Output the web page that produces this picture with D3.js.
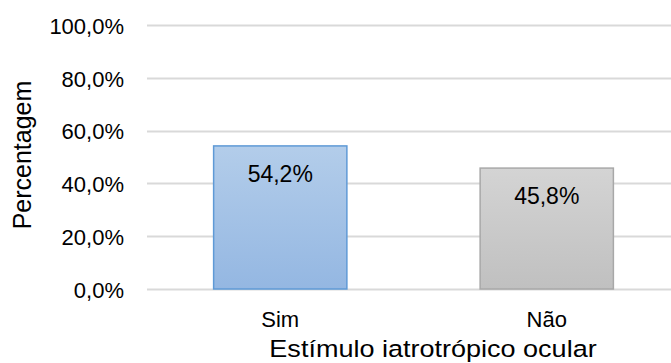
<!DOCTYPE html>
<html>
<head>
<meta charset="utf-8">
<script src="https://cdn.jsdelivr.net/npm/d3@7"></script>
<style>
  body { margin: 0; background: #fff; }
  text { font-family: "Liberation Sans", Arial, sans-serif; fill: #000; }
</style>
</head>
<body>
<div id="chart"></div>
<script>
// chart data
var categories = ['Sim', 'Não'];
var values = [54.2, 45.8];
var tickValues = [0, 20, 40, 60, 80, 100];
var xTitle = 'Estímulo iatrotrópico ocular';
var yTitle = 'Percentagem';

var width = 671, height = 363;
var margin = {top: 25, right: -9, bottom: 74, left: 147};

var svg = d3.select('#chart').append('svg')
  .attr('width', width)
  .attr('height', height);

var defs = svg.append('defs');
function gradient(id, top, bottom) {
  var g = defs.append('linearGradient').attr('id', id)
    .attr('x1', 0).attr('y1', 0).attr('x2', 0).attr('y2', 1);
  g.append('stop').attr('offset', '0%').attr('stop-color', top);
  g.append('stop').attr('offset', '100%').attr('stop-color', bottom);
}
gradient('gBlue', '#b3cdea', '#94b7e2');
gradient('gGray', '#d4d4d4', '#c0c0c0');
var fills = ['url(#gBlue)', 'url(#gGray)'];
var strokes = ['#5f9ad6', '#a8a8a8'];

var x = d3.scaleBand()
  .domain(categories)
  .range([margin.left, width - margin.right])
  .paddingInner(0.5)
  .paddingOuter(0.25);

var y = d3.scaleLinear()
  .domain([0, 100])
  .range([height - margin.bottom, margin.top]);

var fmt = function(d) { return d.toFixed(1).replace('.', ',') + '%'; };

// gridlines
svg.append('g').selectAll('line')
  .data(tickValues).enter().append('line')
  .attr('x1', margin.left)
  .attr('x2', width)
  .attr('y1', function(d) { return Math.round(y(d)) + 0.5; })
  .attr('y2', function(d) { return Math.round(y(d)) + 0.5; })
  .attr('stroke', '#d9d9d9')
  .attr('stroke-width', 2);

// y axis labels
var yAxis = d3.axisLeft(y).tickValues(tickValues).tickFormat(fmt).tickSize(0).tickPadding(0);
var yg = svg.append('g')
  .attr('transform', 'translate(124,0)')
  .call(yAxis);
yg.select('.domain').remove();
yg.selectAll('text')
  .attr('font-size', 22)
  .attr('dy', '0.38em')
  .attr('font-family', '"Liberation Sans", Arial, sans-serif')
  .attr('fill', '#111');

// bars
svg.append('g').selectAll('rect')
  .data(values).enter().append('rect')
  .attr('x', function(d, i) { return x(categories[i]); })
  .attr('y', function(d) { return y(d); })
  .attr('width', x.bandwidth())
  .attr('height', function(d) { return y(0) - y(d); })
  .attr('fill', function(d, i) { return fills[i]; })
  .attr('stroke', function(d, i) { return strokes[i]; })
  .attr('stroke-width', 1.5);

// data labels
svg.append('g').selectAll('text')
  .data(values).enter().append('text')
  .attr('x', function(d, i) { return x(categories[i]) + x.bandwidth() / 2; })
  .attr('y', function(d) { return y(d) + 36; })
  .attr('text-anchor', 'middle')
  .attr('font-size', 23)
  .attr('fill', '#111')
  .text(fmt);

// x axis labels
var xAxis = d3.axisBottom(x).tickSize(0).tickPadding(0);
var xg = svg.append('g')
  .attr('transform', 'translate(0,327)')
  .call(xAxis);
xg.select('.domain').remove();
xg.selectAll('text')
  .attr('y', 0)
  .attr('dy', 0)
  .attr('font-size', 22)
  .attr('font-family', '"Liberation Sans", Arial, sans-serif')
  .attr('fill', '#111');

// axis titles
svg.append('text')
  .attr('transform', 'translate(433,357) scale(1.15,1)')
  .attr('text-anchor', 'middle')
  .attr('font-size', 23.5)
  .attr('fill', '#111')
  .text(xTitle);

svg.append('text')
  .attr('transform', 'translate(31,155) rotate(-90)')
  .attr('text-anchor', 'middle')
  .attr('font-size', 25)
  .attr('fill', '#111')
  .text(yTitle);
</script>
</body>
</html>
